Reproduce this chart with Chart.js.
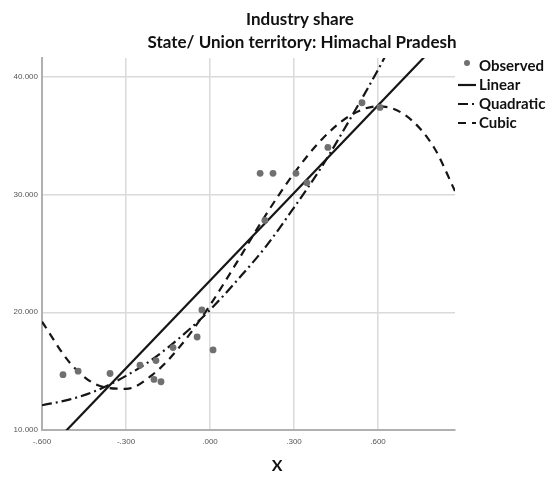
<!DOCTYPE html>
<html>
<head>
<meta charset="utf-8">
<script src="https://cdn.jsdelivr.net/npm/chart.js@4.4.1/dist/chart.umd.min.js"></script>
<style>
  html, body { margin: 0; padding: 0; background: #fff; }
  #wrap { width: 553px; height: 481px; position: relative; }
</style>
</head>
<body>
<div id="wrap"><canvas id="fitChart"></canvas></div>
<script>
const obsX = [-0.525, -0.471, -0.357, -0.25, -0.193, -0.2, -0.175, -0.132, -0.046, 0.011, -0.029, 0.179, 0.196, 0.225, 0.307, 0.346, 0.421, 0.543, 0.607];
const obsY = [14.7, 15.0, 14.8, 15.5, 15.9, 14.3, 14.1, 17.0, 17.9, 16.8, 20.2, 31.8, 27.8, 31.8, 31.8, 31.0, 34.0, 37.8, 37.4];

// fitted curves
const linX = [-0.6, 0.875];
const linY = [7.8, 44.4];
const curveX = [-0.6, -0.5, -0.4, -0.3, -0.2, -0.1, 0, 0.1, 0.2, 0.3, 0.4, 0.5, 0.6, 0.7, 0.8, 0.875];
const quadY = [12.1, 12.6, 13.4, 14.6, 16.1, 18.0, 20.2, 22.8, 25.6, 28.9, 32.4, 36.4, 40.6, 45.2, 50.2, 54.0];
const cubicY = [19.2, 15.7, 13.8, 13.5, 14.8, 17.3, 20.6, 24.4, 28.3, 31.8, 34.7, 36.7, 37.5, 36.7, 34.0, 30.3];

const xTicks = [-0.6, -0.3, 0, 0.3, 0.6];
const yTicks = [10, 20, 30, 40];

const titleLines = ['Industry share', 'State/ Union territory: Himachal Pradesh'];
const xTitle = 'X';

function toPoints(xs, ys) {
    return xs.map(function(x, i) { return { x: x, y: ys[i] }; });
}

// ".600" style labels like the original
function fmtX(v) {
    return v.toFixed(3).replace('0.', '.');
}

// title lines and x label
const textPlugin = {
    id: 'textPlugin',
    afterDraw(chart) {
        const ctx = chart.ctx;
        ctx.save();
        ctx.fillStyle = '#111';
        ctx.textAlign = 'center';
        ctx.textBaseline = 'middle';
        ctx.font = 'bold 17px Lato';
        ctx.fillText(titleLines[0], 300, 20);
        ctx.fillText(titleLines[1], 302, 43);
        ctx.font = 'bold 16px Lato';
        ctx.fillText(xTitle, 277, 466);
        ctx.restore();
    }
};

// legend on the right, drawn from the datasets
const legendPlugin = {
    id: 'sideLegend',
    afterDraw(chart) {
        const ctx = chart.ctx;
        const x0 = chart.chartArea.right + 3;
        let y = 66;
        ctx.save();
        ctx.font = 'bold 15px Lato';
        ctx.textBaseline = 'middle';
        chart.data.datasets.forEach(function(ds) {
            if (ds.showLine === false) {
                ctx.fillStyle = ds.backgroundColor;
                ctx.beginPath();
                ctx.arc(x0 + 9, y - 3, 3, 0, Math.PI * 2);
                ctx.fill();
            } else {
                ctx.strokeStyle = ds.borderColor;
                ctx.lineWidth = ds.borderWidth;
                ctx.setLineDash(ds.borderDash || []);
                ctx.beginPath();
                ctx.moveTo(x0, y);
                ctx.lineTo(x0 + 18, y);
                ctx.stroke();
                ctx.setLineDash([]);
            }
            ctx.fillStyle = '#111';
            ctx.fillText(ds.label, x0 + 21, y);
            y += 19;
        });
        ctx.restore();
    }
};

document.addEventListener('DOMContentLoaded', function() {
    const ctx = document.getElementById('fitChart');

    new Chart(ctx, {
        type: 'scatter',
        data: {
            datasets: [{
                label: 'Observed',
                data: toPoints(obsX, obsY),
                showLine: false,
                backgroundColor: '#707070',
                borderColor: '#707070',
                pointRadius: 3.4,
                pointBorderWidth: 0
            }, {
                label: 'Linear',
                data: toPoints(linX, linY),
                showLine: true,
                borderColor: '#151515',
                borderWidth: 2.2,
                pointRadius: 0
            }, {
                label: 'Quadratic',
                data: toPoints(curveX, quadY),
                showLine: true,
                borderColor: '#151515',
                borderWidth: 2.2,
                borderDash: [10, 4, 2, 4],
                cubicInterpolationMode: 'monotone',
                pointRadius: 0
            }, {
                label: 'Cubic',
                data: toPoints(curveX, cubicY),
                showLine: true,
                borderColor: '#151515',
                borderWidth: 2.2,
                borderDash: [8, 6],
                cubicInterpolationMode: 'monotone',
                pointRadius: 0
            }]
        },
        options: {
            responsive: true,
            maintainAspectRatio: false,
            animation: false,
            layout: {
                padding: { top: 58, right: 98, left: 0, bottom: 0 }
            },
            plugins: {
                legend: { display: false },
                title: { display: false },
                tooltip: { enabled: false }
            },
            scales: {
                x: {
                    type: 'linear',
                    min: -0.6,
                    max: 0.875,
                    afterBuildTicks: function(axis) {
                        axis.ticks = xTicks.map(function(v) { return { value: v }; });
                    },
                    afterFit: function(axis) { axis.height = 51; },
                    grid: { color: '#dadada', lineWidth: 1.5, drawTicks: false },
                    border: { color: '#b0b0b0', width: 2 },
                    ticks: {
                        padding: 7,
                        color: '#555',
                        font: { family: 'Liberation Sans', size: 8 },
                        callback: function(v) { return fmtX(v); }
                    }
                },
                y: {
                    min: 10,
                    max: 41.6,
                    afterBuildTicks: function(axis) {
                        axis.ticks = yTicks.map(function(v) { return { value: v }; });
                    },
                    afterFit: function(axis) { axis.width = 42; },
                    grid: { color: '#dadada', lineWidth: 1.5, drawTicks: false },
                    border: { color: '#b0b0b0', width: 2 },
                    ticks: {
                        padding: 4,
                        color: '#555',
                        font: { family: 'Liberation Sans', size: 8 },
                        callback: function(v) { return v.toFixed(3); }
                    }
                }
            }
        },
        plugins: [textPlugin, legendPlugin]
    });
});
</script>
</body>
</html>
